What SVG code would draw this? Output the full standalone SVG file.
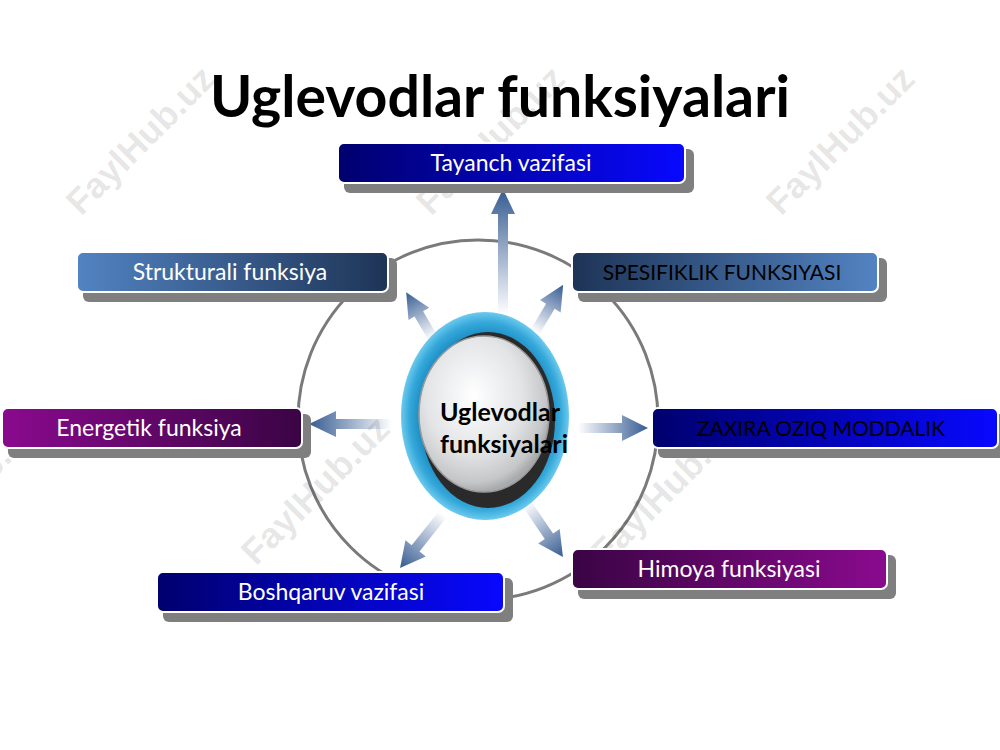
<svg xmlns="http://www.w3.org/2000/svg" width="1000" height="750" viewBox="0 0 1000 750">
<defs>
<linearGradient id="gNavy" x1="0" y1="0" x2="1" y2="0"><stop offset="0" stop-color="#00006e"/><stop offset="1" stop-color="#0808ff"/></linearGradient>
<linearGradient id="gSteelL" x1="0" y1="0" x2="1" y2="0"><stop offset="0" stop-color="#5283c2"/><stop offset="1" stop-color="#1e3456"/></linearGradient>
<linearGradient id="gSteelR" x1="0" y1="0" x2="1" y2="0"><stop offset="0" stop-color="#1e3456"/><stop offset="1" stop-color="#5283c2"/></linearGradient>
<linearGradient id="gPurpL" x1="0" y1="0" x2="1" y2="0"><stop offset="0" stop-color="#8a0a8e"/><stop offset="1" stop-color="#3a0444"/></linearGradient>
<linearGradient id="gPurpR" x1="0" y1="0" x2="1" y2="0"><stop offset="0" stop-color="#3a0444"/><stop offset="1" stop-color="#8a0a8e"/></linearGradient>
<linearGradient id="gArrow" x1="0" y1="0" x2="1" y2="0"><stop offset="0" stop-color="#ffffff"/><stop offset="0.35" stop-color="#b9c6da"/><stop offset="1" stop-color="#365c91"/></linearGradient>
<radialGradient id="gRing" cx="0.5" cy="0.5" r="0.5"><stop offset="0.75" stop-color="#1786bd"/><stop offset="0.9" stop-color="#35a8da"/><stop offset="1" stop-color="#6ccaee"/></radialGradient>
<radialGradient id="gCore" cx="0.42" cy="0.38" r="0.62"><stop offset="0" stop-color="#ffffff"/><stop offset="0.6" stop-color="#e2e4e6"/><stop offset="0.9" stop-color="#c4c6c8"/><stop offset="1" stop-color="#a8aaac"/></radialGradient>
</defs>
<style>
.shadow{fill:#7f7f7f}
.box{stroke:#ffffff;stroke-width:2}
.lbl{font-family:Lato,"Open Sans","Liberation Sans",sans-serif;font-size:23px;text-anchor:middle}
.caps{font-size:21px}
.wm{font-family:"Liberation Sans",Arial,sans-serif;font-weight:bold;font-size:36px;fill:#000;fill-opacity:0.11;text-anchor:middle}
.arrow{fill:url(#gArrow)}
</style>
<rect width="1000" height="750" fill="#ffffff"/>

<text x="500" y="117" font-family="Lato,'Open Sans','Liberation Sans',sans-serif" font-weight="bold" font-size="58" text-anchor="middle" textLength="580" lengthAdjust="spacingAndGlyphs" fill="#000">Uglevodlar funksiyalari</text>

<circle cx="478" cy="420" r="180" fill="none" stroke="#7a7a7a" stroke-width="3"/>

<g id="connectors">
<path class="arrow" transform="translate(503,315) rotate(-90)" d="M0,-5 L101,-5 L101,-12 L126,0 L101,12 L101,5 L0,5 Z"/>
<path class="arrow" transform="translate(433,338) rotate(-120.4)" d="M0,-5 L28,-5 L28,-12 L53,0 L28,12 L28,5 L0,5 Z"/>
<path class="arrow" transform="translate(535,332) rotate(-59.2)" d="M0,-5 L30,-5 L30,-12 L55,0 L30,12 L30,5 L0,5 Z"/>
<path class="arrow" transform="translate(392,424) rotate(180)" d="M0,-5 L56,-5 L56,-13 L83,0 L56,13 L56,5 L0,5 Z"/>
<path class="arrow" transform="translate(578,428)" d="M0,-5 L44,-5 L44,-13 L70,0 L44,13 L44,5 L0,5 Z"/>
<path class="arrow" transform="translate(443,514) rotate(128.5)" d="M0,-5 L44,-5 L44,-13 L69,0 L44,13 L44,5 L0,5 Z"/>
<path class="arrow" transform="translate(527,504) rotate(55.8)" d="M0,-5 L39,-5 L39,-13 L64,0 L39,13 L39,5 L0,5 Z"/>
</g>

<g id="watermarks">
<text class="wm" x="140" y="140" dy="0.35em" transform="rotate(-45 140 140)">FaylHub.uz</text>
<text class="wm" x="490" y="140" dy="0.35em" transform="rotate(-45 490 140)">FaylHub.uz</text>
<text class="wm" x="840" y="140" dy="0.35em" transform="rotate(-45 840 140)">FaylHub.uz</text>
<text class="wm" x="-35" y="490" dy="0.35em" transform="rotate(-45 -35 490)">FaylHub.uz</text>
<text class="wm" x="315" y="490" dy="0.35em" transform="rotate(-45 315 490)">FaylHub.uz</text>
<text class="wm" x="665" y="490" dy="0.35em" transform="rotate(-45 665 490)">FaylHub.uz</text>
</g>

<g id="center">
<ellipse cx="485" cy="416" rx="84" ry="104" fill="url(#gRing)"/>
<ellipse cx="488" cy="420" rx="67" ry="88" fill="#2a2a2a"/>
<ellipse cx="484" cy="414" rx="65" ry="78" fill="url(#gCore)" stroke="#9a9a9a" stroke-width="1.5"/>
<text font-family="Lato,'Open Sans','Liberation Sans',sans-serif" font-weight="bold" font-size="25" fill="#000"><tspan x="440" y="421">Uglevodlar</tspan><tspan x="440" y="453">funksiyalari</tspan></text>
</g>

<g id="tayanch">
<rect class="shadow" x="344" y="149" width="350" height="44" rx="6"/>
<rect class="box" x="338" y="143" width="347" height="40" rx="6" fill="url(#gNavy)"/>
<text class="lbl" x="511" y="171" fill="#ffffff">Tayanch vazifasi</text>
</g>

<g id="strukturali">
<rect class="shadow" x="83" y="258" width="314" height="44" rx="6"/>
<rect class="box" x="77" y="252" width="311" height="40" rx="6" fill="url(#gSteelL)"/>
<text class="lbl" x="230" y="280" fill="#ffffff">Strukturali funksiya</text>
</g>

<g id="spesifiklik">
<rect class="shadow" x="578" y="258" width="309" height="44" rx="6"/>
<rect class="box" x="572" y="252" width="306" height="40" rx="6" fill="url(#gSteelR)"/>
<text class="lbl caps" x="722" y="280" fill="#000000">SPESIFIKLIK FUNKSIYASI</text>
</g>

<g id="energetik">
<rect class="shadow" x="8" y="414" width="303" height="44" rx="6"/>
<rect class="box" x="2" y="408" width="300" height="40" rx="6" fill="url(#gPurpL)"/>
<text class="lbl" x="149" y="436" fill="#ffffff">Energetik funksiya</text>
</g>

<g id="zaxira">
<rect class="shadow" x="658" y="414" width="349" height="44" rx="6"/>
<rect class="box" x="652" y="408" width="346" height="40" rx="6" fill="url(#gNavy)"/>
<text class="lbl caps" x="821" y="436" fill="#000000">ZAXIRA OZIQ MODDALIK</text>
</g>

<g id="boshqaruv">
<rect class="shadow" x="163" y="578" width="350" height="44" rx="6"/>
<rect class="box" x="157" y="572" width="347" height="40" rx="6" fill="url(#gNavy)"/>
<text class="lbl" x="331" y="600" fill="#ffffff">Boshqaruv vazifasi</text>
</g>

<g id="himoya">
<rect class="shadow" x="578" y="555" width="318" height="44" rx="6"/>
<rect class="box" x="572" y="549" width="315" height="40" rx="6" fill="url(#gPurpR)"/>
<text class="lbl" x="729" y="577" fill="#ffffff">Himoya funksiyasi</text>
</g>
</svg>
